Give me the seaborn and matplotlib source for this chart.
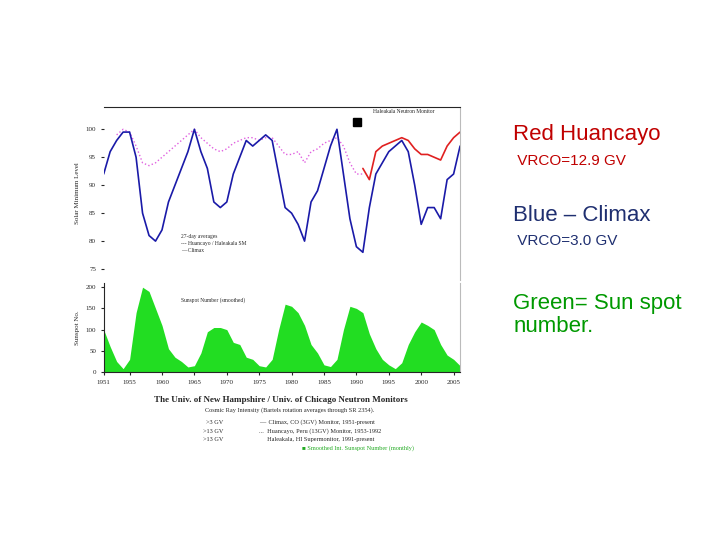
import numpy as np
import pandas as pd
import seaborn as sns
import matplotlib.pyplot as plt

# data (roughly yearly)
years = list(range(1951, 2007))
climax = [92, 96, 98, 99.5, 99.5, 95, 85, 81, 80, 82, 87, 90, 93, 96, 100, 96, 93, 87, 86, 87,
          92, 95, 98, 97, 98, 99, 98, 92, 86, 85, 83, 80, 87, 89, 93, 97, 100, 92, 84, 79,
          78, 86, 92, 94, 96, 97, 98, 96, 90, 83, 86, 86, 84, 91, 92, 97]
huancayo_years = list(range(1953, 1992))
huancayo = [99, 100, 99.5, 97, 94, 93.5, 94, 95, 96, 97, 98, 99, 100, 98.5, 97.5, 96.5, 96, 96.5,
            97.5, 98, 98.5, 98.5, 98, 98.5, 98.5, 97, 95.5, 95.5, 96, 94, 96, 96.5, 97.5, 98,
            98.5, 97, 94, 92, 92]
haleakala_years = list(range(1991, 2007))
haleakala = [93, 91, 96, 97, 97.5, 98, 98.5, 98, 96.5, 95.5, 95.5, 95, 94.5, 97, 98.5, 99.5]
sunspots = [100, 60, 25, 8, 30, 140, 200, 190, 150, 110, 55, 35, 25, 12, 15, 45, 95, 105, 105, 100,
            70, 65, 35, 30, 15, 12, 30, 100, 160, 155, 140, 110, 65, 45, 17, 13, 30, 100, 155, 150,
            140, 90, 55, 30, 17, 8, 22, 65, 95, 118, 110, 100, 65, 40, 30, 15]
xticks = [1951, 1955, 1960, 1965, 1970, 1975, 1980, 1985, 1990, 1995, 2000, 2005]

sns.set_style("white")
plt.rcParams['font.family'] = ['Liberation Serif', 'DejaVu Sans']

fig = plt.figure(figsize=(7.2, 5.4), dpi=100)

ax1 = fig.add_axes([0.144, 0.481, 0.495, 0.321])
ax2 = fig.add_axes([0.144, 0.311, 0.495, 0.165], sharex=ax1)

sns.lineplot(x=huancayo_years, y=huancayo, ax=ax1, color='#e060e0', lw=1, linestyle=':')
sns.lineplot(x=years, y=climax, ax=ax1, color='#1a1aa8', lw=1.2)
sns.lineplot(x=haleakala_years, y=haleakala, ax=ax1, color='#e02020', lw=1.2)
ax1.set_ylim(73, 104)
ax1.set_yticks([75, 80, 85, 90, 95, 100])
ax1.set_xlim(1951, 2006)
for s in ['left', 'bottom']:
    ax1.spines[s].set_visible(False)
ax1.spines['right'].set_color('#bbbbbb')
ax1.tick_params(labelbottom=False, labelsize=5, length=2, direction='out', left=True)
ax1.set_ylabel('Solar Minimum Level', fontsize=5)
ax1.text(2002, 103, 'Haleakala Neutron Monitor', fontsize=4, ha='right')
ax1.add_patch(plt.Rectangle((1989.5, 100.5), 1.2, 1.6, color='black'))
ax1.text(1963, 80.5, '27-day averages', fontsize=4)
ax1.text(1963, 79.3, '--- Huancayo / Haleakala SM', fontsize=4)
ax1.text(1963, 78.1, '— Climax', fontsize=4)

ax2.fill_between(years, sunspots, color='#22dd22', lw=0)
ax2.set_ylim(0, 210)
ax2.set_yticks([0, 50, 100, 150, 200])
ax2.set_xticks(xticks)
ax2.spines['top'].set_visible(False)
ax2.spines['right'].set_color('#bbbbbb')
ax2.tick_params(labelsize=5, length=2, direction='out', left=True, bottom=True)
ax2.set_ylabel('Sunspot No.', fontsize=5)
ax2.text(1963, 165, 'Sunspot Number (smoothed)', fontsize=4)

fig.text(0.39, 0.255, 'The Univ. of New Hampshire / Univ. of Chicago Neutron Monitors', fontsize=6.5,
         ha='center', weight='bold')
fig.text(0.285, 0.237, 'Cosmic Ray Intensity (Bartels rotation averages through SR 2354).', fontsize=4.5)
legend_rows = [('>3 GV', '—  Climax, CO (3GV) Monitor, 1951-present'),
               ('>13 GV', '...  Huancayo, Peru (13GV) Monitor, 1953-1992'),
               ('>13 GV', '     Haleakala, HI Supermonitor, 1991-present')]
for i, (a, b) in enumerate(legend_rows):
    fig.text(0.31, 0.215 - i * 0.016, a, fontsize=4.5, ha='right')
    fig.text(0.36, 0.215 - i * 0.016, b, fontsize=4.5)
fig.text(0.42, 0.167, '■ Smoothed Int. Sunspot Number (monthly)', fontsize=4.5, color='#22aa22')

sans = ['Liberation Sans', 'DejaVu Sans']
fig.text(0.713, 0.74, 'Red Huancayo', fontsize=16, color='#c00000', family=sans)
fig.text(0.713, 0.695, ' VRCO=12.9 GV', fontsize=11, color='#c00000', family=sans)
fig.text(0.713, 0.59, 'Blue – Climax', fontsize=16, color='#1f2f70', family=sans)
fig.text(0.713, 0.546, ' VRCO=3.0 GV', fontsize=11, color='#1f2f70', family=sans)
fig.text(0.713, 0.385, 'Green= Sun spot\nnumber.', fontsize=16, color='#009900', family=sans,
         linespacing=1.15)

fig.savefig('out.png', dpi=100)
